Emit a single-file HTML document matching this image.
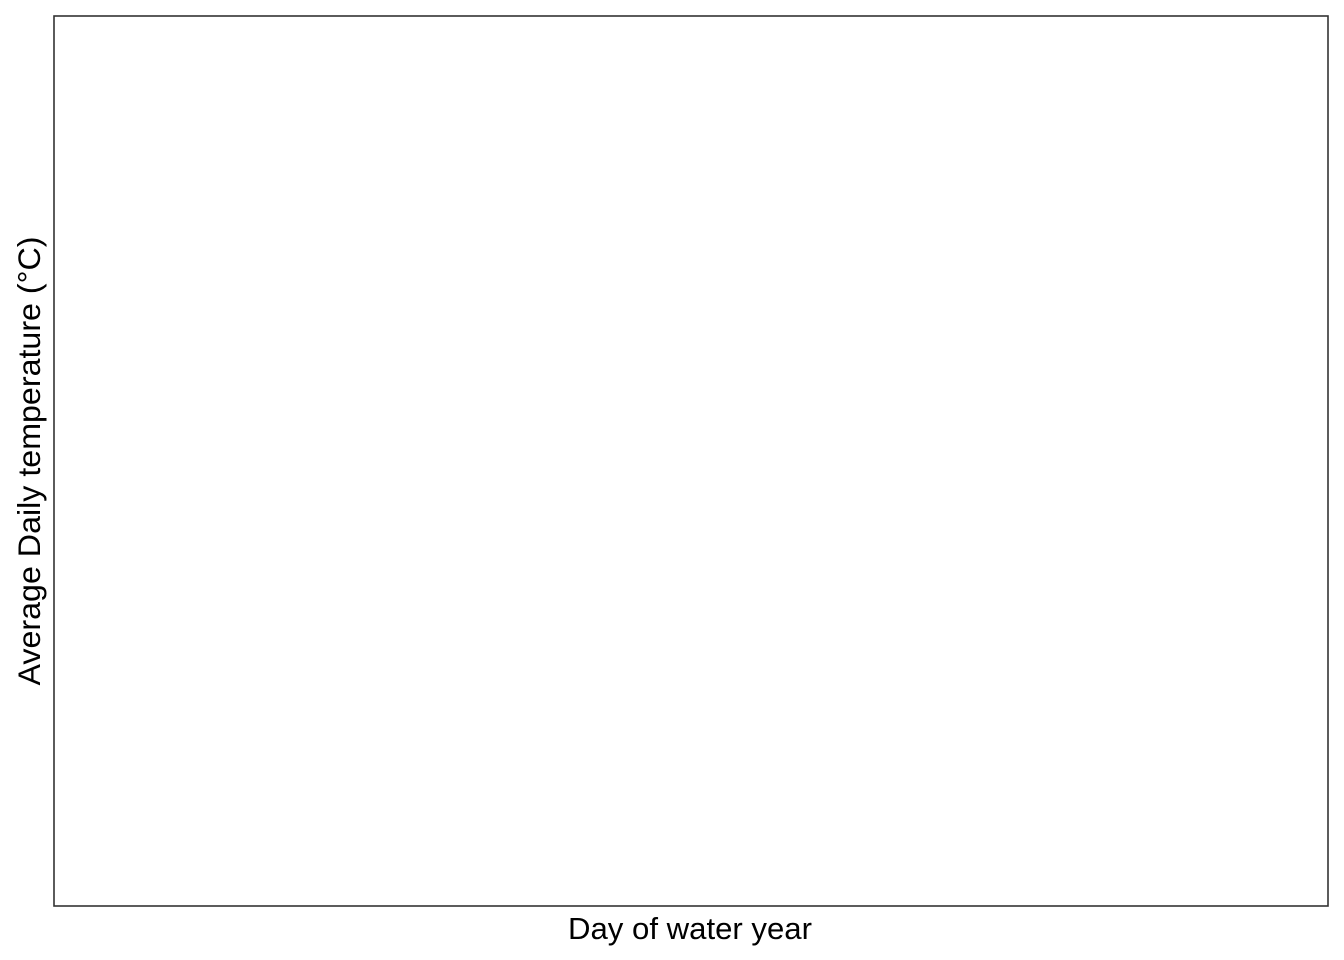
<!DOCTYPE html>
<html>
<head>
<meta charset="utf-8">
<style>
  html, body { margin: 0; padding: 0; background: #fff; }
  body { width: 1344px; height: 960px; overflow: hidden; }
  svg { display: block; }
  text { font-family: "Liberation Sans", Arial, sans-serif; fill: #000; }
</style>
</head>
<body>
<svg width="1344" height="960" viewBox="0 0 1344 960">
  <rect x="0" y="0" width="1344" height="960" fill="#fff"/>
  <rect x="54" y="16" width="1274" height="890" fill="none" stroke="#333333" stroke-width="1.6"/>
  <g id="marks"></g>
  <text x="690" y="939" font-size="31" text-anchor="middle" textLength="244" lengthAdjust="spacingAndGlyphs">Day of water year</text>
  <text x="0" y="0" font-size="31.5" text-anchor="middle" textLength="449" lengthAdjust="spacingAndGlyphs" transform="translate(40,461) rotate(-90)">Average Daily temperature (°C)</text>
</svg>
<script>
// The reference chart plots no data, so these arrays are empty.
const days = [];
const temps = [];
const xMin = 0, xMax = 365, yMin = 0, yMax = 30;
function xScale(v) { return 54 + (v - xMin) / (xMax - xMin) * 1274; }
function yScale(v) { return 906 - (v - yMin) / (yMax - yMin) * 890; }
const g = document.getElementById('marks');
for (let i = 0; i < days.length; i++) {
  const c = document.createElementNS('http://www.w3.org/2000/svg', 'circle');
  c.setAttribute('cx', xScale(days[i]));
  c.setAttribute('cy', yScale(temps[i]));
  c.setAttribute('r', 2);
  c.setAttribute('fill', '#000');
  
  
  g.appendChild(c);
}
</script>
</body>
</html>
